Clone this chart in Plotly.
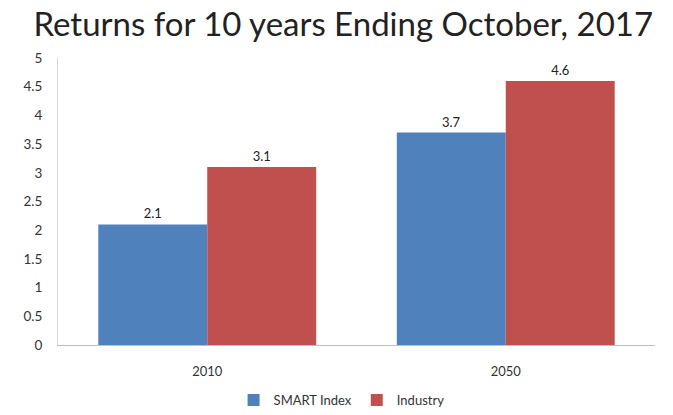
import plotly.graph_objects as go

categories = ["2010", "2050"]
smart_index = [2.1, 3.7]
industry = [3.1, 4.6]
y_ticks = [0, 0.5, 1, 1.5, 2, 2.5, 3, 3.5, 4, 4.5, 5]
y_tick_labels = ["0", "0.5", "1", "1.5", "2", "2.5", "3", "3.5", "4", "4.5", "5"]

font_family = "Lato, Carlito, sans-serif"

fig = go.Figure()
fig.add_trace(go.Bar(
    name="SMART Index", x=categories, y=smart_index,
    marker=dict(color="#4F81BD", line=dict(width=0)),
    text=[str(v) for v in smart_index], textposition="outside",
    textfont=dict(size=13, color="#222222", family=font_family),
    cliponaxis=False,
))
fig.add_trace(go.Bar(
    name="Industry", x=categories, y=industry,
    marker=dict(color="#C0504D", line=dict(width=0)),
    text=[str(v) for v in industry], textposition="outside",
    textfont=dict(size=13, color="#222222", family=font_family),
    cliponaxis=False,
))

fig.update_layout(
    width=673, height=415,
    margin=dict(l=58, r=18, t=58, b=70, autoexpand=False),
    paper_bgcolor="white", plot_bgcolor="white",
    barmode="group", bargap=0.27, bargroupgap=0,
    title=dict(text="Returns for 10 years Ending October, 2017",
               x=0.51, xanchor="center", y=0.94, yanchor="middle",
               font=dict(size=33, color="#222222", family=font_family)),
    font=dict(family=font_family, size=13, color="#333333"),
    showlegend=True,
    legend=dict(orientation="h", x=0.475, xanchor="center",
                yref="container", y=0.0, yanchor="bottom",
                font=dict(size=13, color="#333333"), traceorder="normal",
                itemwidth=30),
    xaxis=dict(showgrid=False, showline=True, linecolor="#BFBFBF", linewidth=1,
               ticks="", ticklabelstandoff=14, tickfont=dict(size=13, color="#333333")),
    yaxis=dict(range=[0, 5], tickvals=y_ticks, ticktext=y_tick_labels,
               showgrid=False, showline=True, linecolor="#D9D9D9", linewidth=1,
               ticks="", ticklabelstandoff=12, zeroline=False,
               tickfont=dict(size=13.5, color="#333333")),
)

fig.write_html("out.html")
